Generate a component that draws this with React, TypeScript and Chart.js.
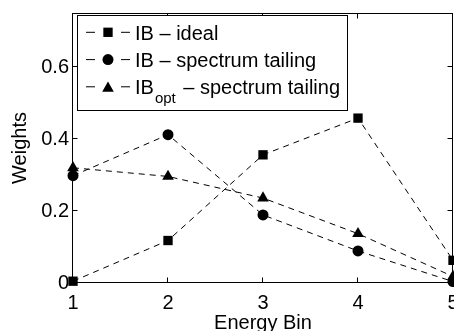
import React, { useEffect, useRef } from 'react';
import { Chart, registerables } from 'chart.js';

Chart.register(...registerables);

// ---- data ----
const energyBins = [1, 2, 3, 4, 5];
const ibIdeal = [0.005, 0.118, 0.356, 0.458, 0.063];
const ibTailing = [0.298, 0.412, 0.189, 0.089, 0.004];
const ibOptTailing = [0.32, 0.296, 0.236, 0.137, 0.018];
const xTicks = [1, 2, 3, 4, 5];
const yTicks = [0, 0.2, 0.4, 0.6];
const yTickLabels = ['0', '0.2', '0.4', '0.6'];
const legendMain = ['IB', 'IB', 'IB'];
const legendSub = ['', '', 'opt'];
const legendRest = [' – ideal', ' – spectrum tailing', ' – spectrum tailing'];
const markerStyles = ['rect', 'circle', 'triangle'];

const FONT = "'Liberation Sans', Arial, Helvetica, sans-serif";
const INK = '#000';

function drawMarker(ctx: CanvasRenderingContext2D, style: string, x: number, y: number, r: number) {
  ctx.beginPath();
  if (style === 'rect') {
    const s = Math.SQRT1_2 * r;
    ctx.rect(x - s, y - s, 2 * s, 2 * s);
  } else if (style === 'circle') {
    ctx.arc(x, y, r, 0, Math.PI * 2);
  } else {
    ctx.moveTo(x, y - r);
    ctx.lineTo(x + r * Math.sin(Math.PI * 2 / 3), y - r * Math.cos(Math.PI * 2 / 3));
    ctx.lineTo(x + r * Math.sin(Math.PI * 4 / 3), y - r * Math.cos(Math.PI * 4 / 3));
    ctx.closePath();
  }
  ctx.fill();
}

const radii = [6.6, 5.5, 6.7];

const framePlugin = {
  id: 'frame',
  beforeDatasetsDraw(chart: any) {
    const { ctx, chartArea: a, scales } = chart;
    const L = Math.round(a.left) - 0.5;
    const R = Math.round(a.right) - 0.5;
    const T = Math.round(a.top) + 0.5;
    const B = Math.round(a.bottom) - 0.5;
    ctx.save();
    ctx.strokeStyle = INK;
    ctx.lineWidth = 1;
    ctx.setLineDash([]);
    ctx.strokeRect(L, T, R - L, B - T);
    const tl = 5;
    ctx.beginPath();
    xTicks.forEach((v) => {
      const px = Math.round(scales.x.getPixelForValue(v)) - 0.5;
      ctx.moveTo(px, B);
      ctx.lineTo(px, B - tl);
      ctx.moveTo(px, T);
      ctx.lineTo(px, T + tl);
    });
    yTicks.forEach((v) => {
      const py = Math.round(scales.y.getPixelForValue(v)) - 0.5;
      ctx.moveTo(L, py);
      ctx.lineTo(L + tl, py);
      ctx.moveTo(R, py);
      ctx.lineTo(R - tl, py);
    });
    ctx.stroke();
    ctx.restore();
  },
};

const legendPlugin = {
  id: 'customLegend',
  afterDraw(chart: any) {
    const { ctx } = chart;
    const bx = 77.5, by = 15.5, bw = 270, bh = 95;
    ctx.save();
    ctx.fillStyle = '#fff';
    ctx.fillRect(bx, by, bw, bh);
    ctx.strokeStyle = INK;
    ctx.lineWidth = 1;
    ctx.strokeRect(bx, by, bw, bh);
    const baselines = [39.5, 66.8, 94];
    legendMain.forEach((main, i) => {
      const base = baselines[i];
      const cy = base - 7.2;
      ctx.strokeStyle = INK;
      ctx.setLineDash([9, 26]);
      ctx.beginPath();
      ctx.moveTo(86, cy);
      ctx.lineTo(131, cy);
      ctx.stroke();
      ctx.setLineDash([]);
      ctx.fillStyle = INK;
      drawMarker(ctx, markerStyles[i], 108, i === 2 ? cy + 1.5 : cy, radii[i]);
      ctx.font = `20px ${FONT}`;
      ctx.textBaseline = 'alphabetic';
      ctx.textAlign = 'left';
      let x = 135;
      ctx.fillText(main, x, base);
      x += ctx.measureText(main).width;
      if (legendSub[i]) {
        ctx.font = `15px ${FONT}`;
        ctx.fillText(legendSub[i], x + 1, base + 9);
        x += ctx.measureText(legendSub[i]).width + 3;
        ctx.font = `20px ${FONT}`;
      }
      ctx.fillText(legendRest[i], x, base);
    });
    ctx.restore();
  },
};

export default function App() {
  const ref = useRef<HTMLCanvasElement | null>(null);
  useEffect(() => {
    if (!ref.current) return;
    const mk = (vals: number[]) => energyBins.map((x, i) => ({ x, y: vals[i] }));
    const common = {
      borderColor: INK,
      backgroundColor: INK,
      pointBackgroundColor: INK,
      pointBorderColor: INK,
      borderWidth: 1,
      borderDash: [6, 5],
      pointBorderWidth: 0,
      clip: false as any,
      tension: 0,
      fill: false,
    };
    const chart = new Chart(ref.current, {
      type: 'line',
      data: {
        datasets: [
          { ...common, label: 'IB – ideal', data: mk(ibIdeal), pointStyle: 'rect', pointRadius: radii[0] },
          { ...common, label: 'IB – spectrum tailing', data: mk(ibTailing), pointStyle: 'circle', pointRadius: radii[1] },
          { ...common, label: 'IBopt – spectrum tailing', data: mk(ibOptTailing), pointStyle: 'triangle', pointRadius: radii[2] },
        ],
      },
      options: {
        animation: false,
        responsive: false,
        devicePixelRatio: 1,
        layout: { autoPadding: false, padding: { left: 0, right: 1, top: 13, bottom: 0 } },
        plugins: { legend: { display: false }, tooltip: { enabled: false } },
        scales: {
          x: {
            type: 'linear',
            min: 1,
            max: 5,
            grid: { display: false, drawTicks: false },
            border: { display: false },
            ticks: {
              font: { family: FONT, size: 20 },
              color: INK,
              padding: 8,
              maxRotation: 0,
              callback: (v: any) => String(v),
            },
            title: {
              display: true,
              text: 'Energy Bin',
              color: INK,
              font: { family: FONT, size: 20, lineHeight: 0.75 },
              padding: 0,
            },
            afterBuildTicks: (s: any) => {
              s.ticks = xTicks.map((v) => ({ value: v }));
            },
            afterFit: (s: any) => {
              s.height = 48;
              s.paddingLeft = 0;
              s.paddingRight = 0;
            },
          },
          y: {
            type: 'linear',
            min: 0,
            max: 0.75,
            grid: { display: false, drawTicks: false },
            border: { display: false },
            ticks: {
              font: { family: FONT, size: 20 },
              color: INK,
              padding: 4,
              callback: (v: any) => {
                const i = yTicks.findIndex((t) => Math.abs(t - v) < 1e-9);
                return i >= 0 ? yTickLabels[i] : '';
              },
            },
            title: {
              display: true,
              text: 'Weights',
              color: INK,
              font: { family: FONT, size: 20, lineHeight: 0.75 },
              padding: { top: 13, bottom: 0 },
            },
            afterBuildTicks: (s: any) => {
              s.ticks = yTicks.map((v) => ({ value: v }));
            },
            afterFit: (s: any) => {
              s.width = 73;
              s.paddingTop = 0;
              s.paddingBottom = 0;
            },
          },
        },
      },
      plugins: [framePlugin, legendPlugin],
    });
    return () => chart.destroy();
  }, []);
  return (
    <div style={{ position: 'fixed', left: 0, top: 0, width: 454, height: 331, background: '#fff' }}>
      <canvas ref={ref} width={454} height={331} style={{ width: 454, height: 331, display: 'block' }} />
    </div>
  );
}
